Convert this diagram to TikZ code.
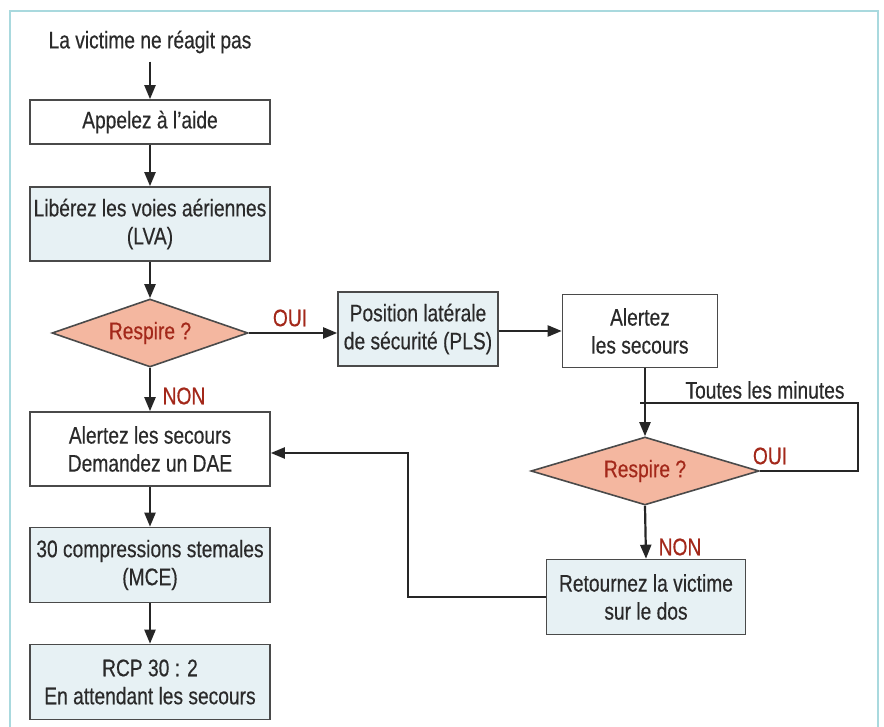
\documentclass[tikz,border=0pt]{standalone}
\usepackage{fontspec}
\setmainfont{Liberation Sans}[FakeStretch=0.8, FakeBold=0.4]
\usetikzlibrary{shapes.geometric,arrows.meta}
\definecolor{framec}{HTML}{A9D9DE}
\definecolor{boxblue}{HTML}{E7F1F4}
\definecolor{salmon}{HTML}{F4B7A0}
\definecolor{darkred}{HTML}{A3281A}
\definecolor{txtgray}{HTML}{2A2A2A}
\definecolor{edgegray}{HTML}{4A4A4A}
\begin{document}
\begin{tikzpicture}[x=1pt,y=-1pt,
  every node/.style={font=\fontsize{24}{28}\selectfont, text=txtgray},
  txt/.style={inner sep=0pt},
  stepbox/.style={draw=edgegray, line width=1.6pt, align=center, inner sep=0pt},
  whitebox/.style={stepbox, fill=white},
  bluebox/.style={stepbox, fill=boxblue},
  decision/.style={diamond, aspect=2.9, draw=edgegray, line width=1.6pt, fill=salmon,
    inner sep=0pt, text=darkred},
  answer/.style={inner sep=0pt, text=darkred},
  arr/.style={line width=2.2pt, draw=black!85, -{Triangle[length=14pt,width=11pt]}},
  ln/.style={line width=2.2pt, draw=black!85},
]
\useasboundingbox (0,0) rectangle (884,727);
\fill[white] (0,0) rectangle (884,727);

% outer frame, open at the bottom
\draw[framec, line width=2pt] (10,727) -- (10,11) -- (878,11) -- (878,727);

% left column
\node[txt] (start) at (150,42) {La victime ne réagit pas};
\node[whitebox, minimum width=240pt, minimum height=44pt] (aide) at (150,122) {Appelez à l’aide};
\node[bluebox, minimum width=240pt, minimum height=74pt] (lva) at (150,224) {Libérez les voies aériennes\\(LVA)};
\node[decision, minimum width=196pt, minimum height=68pt] (d1) at (150,333) {Respire ?};
\node[whitebox, minimum width=240pt, minimum height=74pt] (dae) at (150,449) {Alertez les secours\\Demandez un DAE};
\node[bluebox, minimum width=240pt, minimum height=75pt] (mce) at (150,565) {30 compressions stemales\\(MCE)};
\node[bluebox, minimum width=240pt, minimum height=75pt] (rcp) at (150,682) {RCP 30 : 2\\En attendant les secours};

% right part
\node[bluebox, minimum width=160pt, minimum height=74pt] (pls) at (418,329) {Position latérale\\de sécurité (PLS)};
\node[whitebox, minimum width=155pt, minimum height=73pt] (alert) at (640,331) {Alertez\\les secours};
\node[decision, minimum width=228pt, minimum height=68pt] (d2) at (645,471) {Respire ?};
\node[bluebox, minimum width=199pt, minimum height=75pt] (ret) at (646,597) {Retournez la victime\\sur le dos};

% answer labels
\node[answer] (oui1) at (290,318) {OUI};
\node[answer] (non1) at (184,396) {NON};
\node[answer] (oui2) at (770,456) {OUI};
\node[answer] (non2) at (680,547) {NON};
\node[txt] (tlm) at (765,390) {Toutes les minutes};

% helper points for the routed connectors
\coordinate (lp) at (640,403);
\coordinate (lpr) at (858,403);
\coordinate (jn) at (408,453);

% connectors
\draw[arr, shorten <=8pt] (start) -- (aide);
\draw[arr] (aide) -- (lva);
\draw[arr] (lva) -- (d1);
\draw[arr] (d1) -- (dae);
\draw[arr] (dae) -- (mce);
\draw[arr] (mce) -- (rcp);
\draw[arr] (d1.east) -- (pls.west |- d1.east);
\draw[arr] (pls.east |- alert.west) -- (alert.west);
\draw[arr] (alert.south -| d2.north) -- (d2.north);
\draw[ln] (d2.east) -| (lpr) -- (lp);
\draw[arr] (d2.south) -- (ret.north);
\draw[arr] (ret.west) -| (jn) -- (dae.east |- jn);
\end{tikzpicture}
\end{document}
